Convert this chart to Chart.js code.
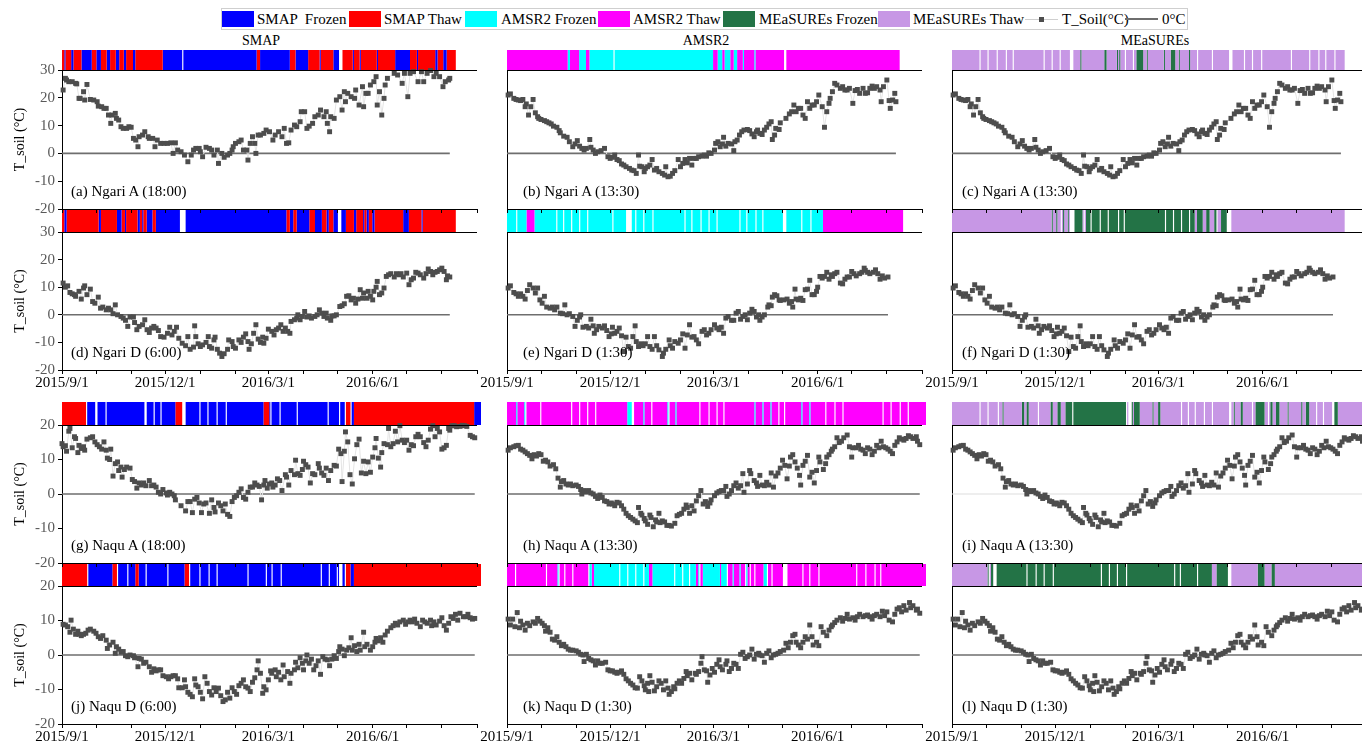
<!DOCTYPE html>
<html>
<head>
<meta charset="utf-8">
<script src="https://cdn.jsdelivr.net/npm/chart.js@4.4.1/dist/chart.umd.min.js"></script>
<style>
  html, body { margin: 0; padding: 0; background: #fff; overflow: hidden; width: 1362px; height: 743px; }
  body { position: relative; font-family: 'Liberation Serif', 'Times New Roman', serif; color: #000; }
  canvas, .abs { position: absolute; }
  .txt { position: absolute; white-space: pre; font-size: 15px; line-height: 18px; }
  .head { position: absolute; font-size: 14px; line-height: 16px; transform: translateX(-50%); white-space: nowrap; }
  #legend { position: absolute; left: 221px; top: 8px; width: 965px; height: 20px; border: 1px solid #cfcfcf; }
  .sw { position: absolute; top: 11px; width: 32px; height: 16px; }
</style>
</head>
<body>
<div id="legend"></div>
<script>
// ---- soil temperature at overpass time, [day since 2015-09-01, degC] ----
const ngariA18 = [[1,22.8],[3,27],[4,26.4],[6,25.8],[9,25.8],[12,25.2],[13,25],[15,19.8],[16,19.8],[19,22.2],[20,19.2],[22,24.8],[25,19.4],[28,19.2],[31,18.6],[32,17],[35,16.8],[37,16.2],[39,16.2],[41,13.8],[43,10.8],[44,13.8],[47,14.4],[48,12.6],[50,12],[52,9.6],[54,9],[57,9],[59,9.6],[61,9.4],[63,5.4],[65,4.8],[67,2.4],[68,6],[71,6.6],[73,7.8],[76,6],[77,5.4],[80,5.4],[82,2.4],[84,4.8],[87,3.6],[90,3.6],[93,3.6],[96,3.8],[98,0],[100,3.8],[102,1.2],[105,0.6],[108,-0.6],[111,-3],[114,-0.6],[116,1.2],[118,1.8],[121,1.8],[122,0.6],[124,-1.2],[127,2.2],[130,1.8],[132,1.2],[134,-0.6],[137,1.2],[138,-3.6],[141,0],[143,-1.4],[146,-0.6],[148,0],[150,1.2],[151,2.4],[153,3.6],[156,4.2],[158,4.8],[160,1.2],[163,1.2],[164,-2.4],[166,3.6],[168,6],[170,3.6],[171,0],[173,6.6],[175,6.6],[178,7.2],[180,8.4],[183,7.8],[186,4.8],[188,6.6],[191,7.8],[194,6],[196,9],[198,3.6],[200,3.8],[202,8.4],[205,10.2],[207,9.6],[210,11.4],[211,15],[214,15],[216,9],[218,9.8],[221,10.8],[223,13.2],[226,13.8],[228,15.6],[231,13.2],[233,15],[234,10.8],[236,7.8],[237,13.2],[240,12.6],[242,19.2],[245,20.4],[247,15.6],[249,22.2],[250,18.6],[252,21.6],[255,20.4],[258,19.8],[259,22.8],[262,17.4],[265,24],[266,16.8],[268,21.6],[270,21.6],[272,24.6],[275,25.8],[277,27.6],[278,17.4],[280,22.2],[282,13.8],[284,19.8],[285,24.6],[287,27],[293,28.8],[296,28.2],[300,25.2],[302,28.8],[305,20.4],[307,28.8],[310,29.4],[314,25.8],[317,29.4],[319,25.8],[322,28.8],[325,29.8],[328,27.6],[330,28.8],[333,27.6],[336,24],[338,25.8],[341,26.4],[342,27]];

const ngariA1330 = [[1,21],[3,21.4],[6,19.8],[8,19.4],[10,19.2],[12,19],[14,19.4],[16,16.8],[17,17.8],[19,13.8],[21,16.8],[23,19.4],[25,14.6],[27,13.2],[28,12.6],[30,12.2],[33,11.8],[35,11.4],[37,11],[39,10.6],[41,9.8],[44,9.4],[46,8.2],[47,7.4],[50,6.2],[53,5.8],[55,4.2],[58,2.4],[60,3.4],[62,4.6],[64,2.6],[66,1.8],[68,1.2],[70,1.8],[73,5],[74,2.2],[76,1.2],[78,0],[80,0.6],[83,1],[86,1.8],[89,-1.2],[91,-1.8],[93,-1.4],[95,-0.6],[97,-2.2],[99,-2.6],[101,-3.8],[103,-4.2],[105,-4.8],[108,-5.4],[110,-6],[112,-6.2],[114,-7.2],[116,-0.6],[117,-4.6],[119,-4.8],[121,-6.6],[122,-5.4],[124,-4.8],[126,-4.2],[128,-2.2],[130,-6],[132,-5.4],[134,-6.6],[137,-7.2],[139,-7.8],[140,-4.8],[142,-8.4],[144,-8.2],[146,-7.2],[148,-6.2],[151,-2.2],[153,-4.8],[155,-3.6],[157,-2.2],[159,-3.4],[161,-1.8],[163,-4.2],[165,-1.8],[167,-1.8],[169,-1.2],[172,-1],[174,-0.6],[176,-1],[178,0.2],[180,0],[183,1.2],[184,3.6],[186,4.2],[188,2.4],[190,3.4],[191,5.8],[193,2.6],[195,3.6],[198,3.4],[200,1],[201,4.2],[203,4.8],[205,6.6],[207,7.8],[209,8.4],[212,8.6],[214,8.2],[216,7],[218,6],[220,7.8],[221,8.4],[223,7.2],[225,6.8],[227,8.4],[229,9.4],[231,10.6],[233,11.4],[234,5],[236,6.6],[237,9],[240,8.6],[241,11],[246,12.6],[249,14.2],[251,15],[253,17.4],[255,15],[257,16.2],[259,16.2],[261,13.8],[263,12.6],[265,18.6],[267,16.2],[269,17.4],[271,17.4],[273,18.6],[275,21],[278,16.8],[280,9.4],[282,15],[284,18],[285,19.8],[287,22.2],[289,25.2],[291,24.6],[294,23.4],[296,24],[298,22.8],[300,22.8],[302,23.4],[305,18],[307,22.6],[309,23],[311,21.6],[314,23.4],[316,21.6],[318,21.8],[320,23.4],[322,24.2],[324,23.4],[326,24],[329,22.8],[330,18.6],[332,24],[335,26.4],[337,19],[338,16.2],[340,19.2],[342,21.6],[343,18.6]];

const ngariD6 = [[1,11.5],[3,10],[5,10.5],[7,8.1],[9,7.6],[11,7.3],[12,6.7],[15,8.5],[17,5.7],[19,9.7],[20,10.5],[22,7.3],[25,9.3],[27,4.8],[29,4.2],[32,6.4],[34,2.4],[36,2.8],[39,1.8],[41,2.4],[43,1.8],[45,0.4],[47,3.6],[49,0],[52,-0.6],[54,-1.2],[56,-2],[58,-4.2],[60,-0.8],[63,-0.8],[64,-2.8],[66,-5.4],[68,-4.2],[71,-3.6],[73,-1.8],[75,-5.4],[77,-6.4],[79,-4.8],[81,-4.2],[83,-4.8],[85,-5.7],[87,-7.9],[90,-8.1],[93,-6.7],[95,-4.5],[97,-7.3],[99,-6],[101,-4.5],[103,-8.5],[106,-10.3],[109,-11.2],[111,-7.9],[113,-12.5],[116,-11.7],[117,-4],[118,-7.9],[120,-10.5],[122,-11.5],[124,-10.9],[127,-10],[129,-7.9],[130,-11.5],[132,-12.1],[134,-9.1],[135,-8.1],[137,-12.5],[139,-13.9],[141,-15.1],[143,-14.1],[146,-12.5],[147,-9.1],[150,-9.7],[151,-11.5],[153,-12.1],[156,-9.1],[158,-10],[160,-8.1],[162,-6.9],[164,-9.7],[165,-12.5],[167,-10.5],[169,-6.7],[171,-3.6],[173,-8.8],[175,-10],[177,-8.1],[178,-10.3],[180,-8.5],[182,-5.2],[185,-6],[187,-7.3],[189,-5.4],[191,-4.8],[193,-3.6],[195,-6],[197,-4.8],[199,-6],[201,-6.7],[202,-2.4],[205,-1.8],[207,-1.2],[208,0],[210,-1.8],[212,-0.6],[214,1.2],[216,-0.8],[218,-0.4],[220,-1.2],[223,-0.6],[225,0],[227,1.8],[229,0.6],[231,-0.6],[233,0.6],[234,-1.2],[237,-2],[238,-0.4],[240,-0.4],[242,0],[245,3],[247,3.3],[249,4],[251,6.7],[253,6.9],[255,5.4],[257,6],[259,4.2],[261,5.7],[263,9.1],[265,6],[266,7.9],[269,6],[270,8.5],[272,6.7],[274,5.4],[275,8.5],[277,10],[278,12.1],[280,7.3],[282,7.9],[284,9.7],[286,13.9],[288,14.5],[290,14.9],[293,13.7],[295,14.9],[297,14.5],[299,14.9],[301,13.7],[304,15.1],[306,10.9],[308,12.7],[310,13.3],[312,15.4],[314,15.1],[316,14.5],[319,13.3],[321,14.9],[323,16.6],[325,15.7],[327,14.5],[329,15.4],[331,15.7],[333,16.3],[335,16.9],[337,15.7],[339,12.7],[340,14.1],[342,13.7]];

const ngariD130 = [[1,9.7],[3,10.5],[6,8.1],[8,7.6],[10,6.7],[12,7.6],[14,6.7],[16,5.7],[18,8.8],[20,10.9],[23,9.7],[25,7.9],[27,9.7],[29,5.4],[31,4.2],[33,6.7],[35,2.8],[38,2.4],[40,2.8],[42,1.8],[44,2.8],[47,0.6],[49,0.4],[51,3.6],[53,0],[55,0.4],[58,-0.6],[60,-4.2],[62,-2],[64,-0.8],[65,0],[67,-4.5],[70,-4.2],[72,-4.8],[74,-1.6],[76,-4],[77,-6.7],[79,-5.4],[81,-4.2],[84,-4.8],[86,-4],[88,-5.7],[90,-7.9],[92,-6.9],[93,-4.5],[95,-6.7],[97,-6],[99,-4.8],[101,-7.6],[103,-13.3],[105,-8.1],[107,-11.5],[109,-12.1],[111,-7.9],[113,-4],[114,-9.7],[116,-11.5],[118,-10.5],[120,-11.2],[122,-10.5],[124,-7.9],[126,-11.5],[128,-12.5],[130,-7.9],[132,-11.2],[134,-12.7],[137,-15.1],[138,-13.9],[140,-12.5],[143,-9.1],[144,-11.2],[146,-12.1],[148,-9.7],[151,-10.3],[153,-9.1],[155,-6.9],[157,-12.1],[159,-7.3],[161,-3.6],[163,-8.1],[165,-7.9],[167,-9.1],[169,-10.5],[172,-6],[174,-5.4],[176,-7.3],[178,-6.7],[180,-5.4],[183,-3.6],[185,-4.8],[187,-5.4],[189,-4.5],[191,-6.7],[193,-1.2],[195,-0.6],[198,-2],[200,-2],[202,0.6],[204,1.2],[206,-1.6],[208,-0.6],[210,0],[212,-1.8],[214,0.6],[216,2],[218,1.2],[220,-0.8],[222,0],[223,-2],[225,-0.8],[227,0],[230,2.8],[231,3.6],[233,3.3],[234,6.4],[236,7.3],[238,6.9],[240,5.4],[241,5.2],[244,5.4],[247,5.7],[249,4.2],[251,4.8],[252,2.8],[254,9.3],[255,5.7],[257,5.4],[259,6],[261,5.2],[263,9.1],[265,9.3],[267,12.5],[269,7.3],[271,7.3],[273,8.5],[274,10],[276,13.9],[278,13.3],[280,13.9],[282,15.4],[284,12.9],[286,14.5],[287,13.9],[289,14.9],[291,15.4],[294,11.5],[296,11.2],[298,12.9],[300,13.7],[302,13.7],[304,15.7],[306,14.9],[308,14.1],[311,14.9],[313,15.4],[315,16.9],[316,16.1],[318,15.4],[320,14.9],[323,15.4],[325,16.3],[327,14.9],[329,12.9],[331,14.1],[333,13.3],[336,13.7]];

const naquA18 = [[0,14.6],[1,13.7],[3,14],[4,12.4],[6,18.2],[7,19],[9,13.4],[11,16.6],[12,16.1],[14,12],[15,14.1],[17,13.2],[19,13.7],[20,12.7],[22,15.9],[25,16.3],[27,16.6],[29,15.1],[31,14.3],[33,13.7],[35,13],[37,15.1],[39,12.7],[40,10.4],[42,10],[43,13],[45,5.2],[47,8.8],[49,9.3],[50,6.8],[52,7.8],[53,4.9],[55,7.1],[57,7.8],[60,7.5],[62,4.2],[64,3.6],[66,1.7],[68,3.2],[70,2.6],[72,3.2],[74,2.4],[77,3.9],[79,2.4],[81,2.6],[83,2],[85,0.5],[87,0],[89,1.3],[92,0.3],[93,-0.3],[95,0.5],[97,0],[99,-0.5],[100,-1.7],[105,-3.4],[109,-4.9],[111,-2.2],[113,-2.2],[115,-5.4],[117,-1.5],[119,-1],[121,-2.6],[123,-5.4],[125,-2.9],[127,-2.6],[130,-5.6],[132,-1.7],[134,-3.9],[135,-5.2],[138,-2.6],[140,-3.4],[142,-4.9],[144,-2.9],[146,-5.9],[148,-6.5],[150,-2.2],[152,-1],[154,-0.5],[156,0.5],[158,1.5],[160,-1],[162,-1.5],[164,0.5],[166,2],[168,2],[170,3.2],[172,2.6],[174,2.2],[176,-1.7],[178,2.6],[179,3.9],[181,1.7],[183,2.9],[185,3.2],[186,2],[188,2.6],[190,4.4],[192,3.9],[194,1],[197,5.6],[198,4.9],[200,2.6],[202,6.8],[205,5.6],[206,9.8],[208,5.9],[210,5.4],[212,7.1],[213,9.5],[215,8.5],[217,7.8],[219,3.2],[221,5.9],[223,5.6],[226,8.8],[227,7.5],[229,6.1],[231,5.4],[233,7.5],[235,3.9],[237,6.8],[240,8.3],[242,8.1],[244,13],[246,11.7],[247,3.6],[249,12.4],[250,18],[252,15.1],[254,5.6],[256,2.9],[258,10.2],[260,14.3],[262,15.9],[264,6.1],[266,9.5],[268,5.9],[270,9.3],[272,6.3],[274,10.7],[276,13.4],[277,16.1],[279,10.4],[281,7.8],[282,12],[284,14.6],[287,14.3],[288,19],[290,13.7],[292,14.6],[294,18.2],[296,15.1],[298,19.8],[300,15.6],[302,14.9],[304,15.6],[306,12.7],[308,14.3],[310,14],[312,16.6],[314,17.3],[316,16.6],[319,14.9],[321,13.7],[323,15.6],[325,18.8],[327,19.8],[329,16.6],[331,19],[333,18],[335,13],[337,13.4],[339,14.1],[341,19],[342,18.5],[344,19.8],[346,19.8],[348,19.5],[351,19.6],[353,19.9],[355,19.8],[357,19.6],[360,17],[362,16.6],[364,16.3]];

const naquA1330 = [[1,12.7],[3,13.4],[6,13.7],[8,14],[10,14.1],[12,13],[14,12.7],[16,12.2],[18,11.7],[20,11.2],[22,10.2],[24,11.4],[26,11],[28,11.7],[30,11.4],[32,9.5],[34,9.8],[36,9.3],[38,8.1],[41,8.5],[43,7.3],[45,4.6],[47,2],[48,3.6],[50,3.9],[52,2.9],[54,2.6],[56,2.9],[58,2.4],[61,2.6],[63,2.2],[65,1.3],[66,0],[68,1],[70,0.7],[72,1],[74,0.3],[76,0],[78,-0.7],[80,-1.3],[82,-0.3],[84,-1],[86,-2],[88,-2.2],[90,-2.9],[92,-2.6],[93,-2.9],[95,-3.4],[97,-2.4],[99,-2.6],[101,-3.4],[103,-4.4],[105,-5.6],[107,-6.3],[109,-6.8],[111,-7.3],[113,-7.8],[115,-8.3],[116,-3.9],[118,-5.6],[119,-6.1],[121,-7.1],[122,-7.8],[124,-8.8],[126,-6.1],[127,-6.8],[129,-9.5],[131,-7.5],[132,-8.1],[134,-5.6],[135,-8.3],[137,-7.8],[139,-8.1],[141,-9.1],[143,-9.1],[145,-9.3],[148,-8.5],[150,-6.3],[152,-5.9],[154,-5.6],[156,-4.4],[158,-3.2],[159,-3.9],[161,-5.6],[163,-3.4],[165,-4.9],[167,-2],[169,-0.5],[171,1],[173,-2.9],[175,-2.2],[177,-3.6],[179,-2.6],[180,-1.7],[183,-0.5],[185,0.3],[187,0.7],[189,1],[191,1],[193,2.2],[194,-0.7],[196,0],[198,1],[200,2.4],[202,3.2],[204,1.7],[206,2.4],[208,5.9],[209,0.5],[212,2.9],[214,6.8],[215,5.9],[218,3.9],[220,3.2],[221,2.2],[223,5.4],[225,2.6],[227,2.4],[229,3.4],[231,2.6],[233,6.1],[235,2],[237,5.2],[239,6.1],[241,7.5],[243,9.8],[245,8.3],[247,4.4],[249,8.1],[250,10.7],[252,11.4],[254,9.3],[256,7.5],[258,5.4],[259,2.6],[261,8.3],[263,9.5],[265,11.2],[267,4.9],[269,6.3],[271,3.2],[273,6.8],[275,10.7],[276,9.3],[279,7.1],[281,8.8],[282,10.7],[284,11.4],[286,12.4],[287,13],[289,13.7],[291,16.3],[293,14.9],[295,15.3],[297,16.3],[300,17.1],[302,13.7],[304,10.7],[305,13.4],[308,13.4],[310,14.1],[312,13],[314,12.7],[316,11.7],[318,13.4],[320,13],[322,11.4],[324,12.4],[326,14.1],[328,13.4],[330,15.3],[332,13.7],[334,13.4],[336,13],[338,12.4],[340,11.7],[342,14.1],[344,15.1],[346,16.3],[348,15.9],[350,15.6],[352,16.1],[354,16.9],[356,16.6],[358,16.1],[361,16.6],[362,15.3],[364,14.3]];

const naquD6 = [[1,8.9],[3,8.7],[5,8.2],[7,6.6],[8,10.1],[10,7.5],[12,6],[14,6.9],[15,6],[17,5.6],[19,6],[21,6.3],[23,7.2],[25,7.5],[28,6.9],[30,6.3],[32,5.3],[34,4.8],[36,5.6],[39,4.3],[40,1.9],[42,2.9],[45,3.7],[47,0.5],[48,2.4],[50,1.7],[52,0.8],[54,1],[56,-0.2],[58,-0.5],[60,0],[63,-0.2],[64,-0.8],[67,-3.4],[68,-1],[70,-1.2],[72,-2.4],[74,-2.1],[77,-3.4],[79,-5],[81,-4],[83,-4.6],[85,-4.3],[87,-4.3],[89,-6],[92,-6.3],[94,-6.9],[96,-6.3],[98,-6],[100,-6],[102,-6.9],[103,-9.5],[106,-9.5],[108,-7.2],[109,-9.2],[111,-10.8],[113,-11.4],[115,-12.1],[117,-6.9],[118,-8.7],[120,-9.2],[122,-10.8],[124,-12.7],[126,-6.3],[128,-8.2],[130,-10.6],[132,-11.6],[134,-9.5],[136,-10.6],[138,-9.6],[140,-11.8],[142,-13.5],[144,-13],[146,-10.8],[148,-12.5],[150,-9.5],[152,-10.6],[154,-11.4],[156,-8.9],[158,-8.2],[160,-7.2],[162,-9.2],[164,-9.6],[166,-10.6],[168,-7.9],[170,-6.6],[172,-4.3],[173,-1.7],[175,-5.3],[177,-11.1],[178,-9.2],[180,-10.1],[182,-7.2],[184,-4.6],[185,-5.3],[188,-4.3],[189,-6.3],[191,-5],[193,-7.2],[195,-2.9],[196,-6.3],[199,-4.8],[201,-8.2],[202,-5.3],[205,-4.3],[206,-2.1],[208,-3.7],[210,-0.8],[212,-2.4],[213,-4.3],[215,-1.7],[216,0],[218,-2.4],[220,-1.2],[222,-4.3],[224,-3.1],[226,-1.7],[228,-5.6],[230,-0.5],[232,-1.2],[234,-1.4],[236,-3.1],[238,-1.2],[240,-0.2],[242,-1],[244,1],[245,2.4],[247,1.7],[249,-0.2],[251,1.4],[253,2.1],[255,5],[256,1.4],[258,2.7],[260,1],[262,3.1],[263,1.4],[266,6.6],[267,2.4],[269,3.1],[272,1.4],[274,2.4],[276,3.7],[277,4.8],[279,4.1],[281,5],[283,3.7],[285,5.8],[287,6.9],[290,7.9],[292,8.5],[294,9.2],[296,8.7],[298,9.6],[301,10.1],[303,8.9],[305,9.6],[307,10.1],[309,9.6],[311,10.4],[313,9.2],[316,8.2],[318,10.1],[320,9.6],[322,9.2],[325,10.1],[326,8.5],[328,9.6],[330,8.7],[333,9.8],[335,10.8],[337,8.5],[339,7.2],[341,9.2],[343,11.1],[345,10.6],[347,11.8],[349,10.1],[351,12.1],[354,11.1],[356,11.1],[358,11.8],[360,10.8],[362,10.4],[364,10.6]];

const naquD130 = [[1,10.4],[3,8.7],[5,10.4],[7,8.2],[9,12.3],[11,7.9],[12,9.8],[14,8.7],[16,7.2],[18,9.2],[20,8.5],[23,9.6],[25,9.2],[27,10.6],[29,9.8],[31,9.2],[33,8.5],[34,6.9],[36,7.9],[38,6.6],[40,4.6],[42,4.3],[44,5.3],[46,3.7],[48,2.7],[50,3.1],[52,2.4],[54,1.7],[56,1.4],[58,1.4],[61,1.2],[63,0.8],[65,0.2],[67,0],[68,-1.9],[70,0.2],[72,-1],[74,-1.4],[76,-1.7],[78,-2.9],[80,-1.7],[82,-2.4],[84,-2.4],[87,-2.1],[89,-4.3],[91,-4.6],[93,-4.6],[95,-5],[97,-5.3],[99,-5],[101,-4.6],[103,-5.6],[105,-6.9],[107,-7.5],[109,-8.2],[111,-8.7],[113,-9.5],[115,-9.6],[117,-6.3],[119,-7.5],[121,-8.9],[122,-10.1],[124,-8.2],[125,-10.6],[126,-6],[128,-7.9],[130,-10.4],[132,-9.2],[134,-7.5],[136,-8.2],[138,-10.1],[140,-7.5],[142,-9.6],[143,-11.4],[145,-10.6],[147,-9.2],[148,-9.8],[150,-8.2],[152,-7.5],[154,-8.2],[156,-6.8],[158,-4.8],[159,-6],[161,-5.3],[163,-7.2],[166,-5.3],[167,-5.6],[169,-4.8],[171,-2.4],[172,-0.5],[174,-4.3],[176,-4.6],[177,-7.9],[179,-5.8],[181,-3.9],[183,-5],[185,-2.7],[187,-1.4],[188,-3.4],[190,-4.3],[193,-2.7],[194,-1.7],[196,-4.8],[198,-3.9],[200,-2.4],[202,-2.7],[204,-3.9],[206,0.2],[208,0.8],[210,-1],[212,-0.5],[214,0],[216,1.7],[218,-1.2],[220,0.2],[222,0.5],[223,0],[225,-0.2],[227,-2.1],[229,0.5],[231,1.2],[233,-0.8],[235,0],[237,0.2],[239,0.5],[241,1],[244,1.4],[246,3.4],[248,2.1],[250,3.7],[252,5.6],[254,6],[255,3.7],[257,2.9],[259,2.1],[261,3.7],[263,5.3],[265,4.6],[267,8.7],[269,5.3],[270,2.9],[273,3.7],[275,2.7],[277,8.2],[279,6.6],[282,5.6],[284,7.2],[286,8.2],[287,8.7],[289,9.4],[291,10.1],[294,10.8],[296,9.8],[298,10.6],[300,11.8],[302,10.4],[305,10.8],[307,10.1],[309,11.1],[311,11.8],[314,11.1],[316,11.4],[318,11.6],[320,11.1],[322,10.4],[324,11.4],[326,11.8],[329,11.1],[331,12.7],[333,11.4],[335,12.5],[337,10.1],[340,9.6],[342,11.8],[344,13.3],[346,13.7],[348,12.5],[350,14.3],[352,13],[355,15.2],[356,13.7],[358,14.3],[361,13],[362,13.3],[364,12.1]];

// ---- freeze/thaw retrievals: [first day, state] runs ('F' frozen, 'T' thaw, null = end) and days without retrieval ----
const smapNgariA = [[0,'T'],[2,'F'],[3,'T'],[8,'F'],[10,'T'],[17,'F'],[26,'T'],[30,'F'],[34,'T'],[39,'F'],[42,'T'],[47,'F'],[50,'T'],[54,'F'],[56,'T'],[62,'F'],[64,'T'],[88,'F'],[170,'T'],[173,'F'],[199,'T'],[204,'F'],[215,'T'],[225,'F'],[226,'T'],[237,'F'],[245,'T'],[254,'F'],[255,'T'],[260,'F'],[261,'T'],[275,'F'],[276,'T'],[291,'F'],[304,'T'],[310,'F'],[311,'T'],[326,'F'],[328,'T'],[333,'F'],[336,'T'],[344,null]];
const smapNgariAGaps = [105,242,243,244];
const amsrNgariA = [[0,'T'],[53,'F'],[55,'T'],[63,'F'],[69,'T'],[72,'F'],[180,'T'],[184,'F'],[188,'T'],[190,'F'],[195,'T'],[198,'F'],[201,'T'],[206,'F'],[207,'T'],[216,'F'],[217,'T'],[343,null]];
const amsrNgariAGaps = [93,242,243];
const measNgariA = [[0,'T'],[112,'F'],[113,'T'],[133,'F'],[135,'T'],[144,'F'],[145,'T'],[146,'F'],[147,'T'],[161,'F'],[167,'T'],[170,'F'],[171,'T'],[185,'F'],[186,'T'],[191,'F'],[195,'T'],[198,'F'],[199,'T'],[207,'F'],[208,'T'],[343,null]];
const measNgariAGaps = [24,31,39,47,53,80,87,94,103,104,105,151,158,214,227,242,243,244,255,262,270,296,312,320,326,334];

const smapNgariD = [[0,'T'],[2,'F'],[4,'T'],[32,'F'],[34,'T'],[48,'F'],[52,'T'],[55,'F'],[56,'T'],[66,'F'],[68,'T'],[70,'F'],[71,'T'],[74,'F'],[79,'T'],[82,'F'],[196,'T'],[199,'F'],[202,'T'],[205,'F'],[216,'T'],[221,'F'],[227,'T'],[231,'F'],[233,'T'],[237,'F'],[248,'T'],[255,'F'],[257,'T'],[263,'F'],[264,'T'],[266,'F'],[268,'T'],[271,'F'],[273,'T'],[298,'F'],[303,'T'],[314,'F'],[315,'T'],[344,null]];
const smapNgariDGaps = [103,104,105,106,107,241,242,243];
const amsrNgariD = [[0,'F'],[17,'T'],[24,'F'],[276,'T'],[346,null]];
const amsrNgariDGaps = [8,43,49,56,63,70,92,104,105,106,107,108,112,119,127,155,161,169,176,183,203,209,217,223,241,242,243,257,265];
const measNgariD = [[0,'T'],[87,'F'],[88,'T'],[91,'F'],[92,'T'],[97,'F'],[98,'T'],[101,'F'],[102,'T'],[107,'F'],[114,'T'],[117,'F'],[212,'T'],[214,'F'],[219,'T'],[222,'F'],[225,'T'],[229,'F'],[232,'T'],[235,'F'],[240,'T'],[343,null]];
const measNgariDGaps = [95,103,104,105,106,115,121,129,136,145,150,186,193,200,207,231,240,241,242,243];

const smapNaquA = [[0,'T'],[22,'F'],[99,'T'],[108,'F'],[176,'T'],[181,'F'],[248,'T'],[253,'F'],[255,'T'],[360,'F'],[366,null]];
const smapNaquAGaps = [21,29,30,38,72,73,80,86,105,106,107,120,127,135,143,182,190,205,232,242,247,252];
const amsrNaquA = [[0,'T'],[8,'F'],[9,'T'],[15,'F'],[16,'T'],[105,'F'],[109,'T'],[119,'F'],[120,'T'],[140,'F'],[142,'T'],[147,'F'],[148,'T'],[216,'F'],[217,'T'],[223,'F'],[224,'T'],[230,'F'],[231,'T'],[257,'F'],[258,'T'],[264,'F'],[265,'T'],[366,null]];
const amsrNaquAGaps = [16,29,56,63,70,77,109,110,126,141,168,176,183,189,237,242,278,286,293,328,335,343,350];
const measNaquA = [[0,'T'],[44,'F'],[45,'T'],[61,'F'],[63,'T'],[65,'F'],[67,'T'],[86,'F'],[88,'T'],[92,'F'],[95,'T'],[99,'F'],[153,'T'],[157,'F'],[158,'T'],[159,'F'],[164,'T'],[175,'F'],[176,'T'],[180,'F'],[182,'T'],[246,'F'],[247,'T'],[252,'F'],[254,'T'],[265,'F'],[273,'T'],[278,'F'],[280,'T'],[283,'F'],[286,'T'],[293,'F'],[294,'T'],[305,'F'],[306,'T'],[309,'F'],[312,'T'],[334,'F'],[337,'T'],[366,null]];
const measNaquAGaps = [24,31,40,75,105,152,154,155,156,200,206,212,220,227,242,243,262,276,318,324,332,333];

const smapNaquD = [[0,'T'],[23,'F'],[44,'T'],[49,'F'],[64,'T'],[67,'F'],[107,'T'],[111,'F'],[248,'T'],[252,'F'],[255,'T'],[366,null]];
const smapNaquDGaps = [22,48,57,73,92,111,120,128,135,162,178,183,191,226,233,240,242,243,244,247];
const amsrNaquD = [[0,'T'],[44,'F'],[45,'T'],[72,'F'],[74,'T'],[76,'F'],[124,'T'],[127,'F'],[165,'T'],[167,'F'],[169,'T'],[171,'F'],[186,'T'],[187,'F'],[193,'T'],[197,'F'],[198,'T'],[203,'F'],[204,'T'],[208,'F'],[210,'T'],[224,'F'],[227,'T'],[366,null]];
const amsrNaquDGaps = [7,34,45,50,57,71,98,105,112,119,146,153,159,168,192,208,212,216,227,231,241,242,243,244,258,264,272,305,313,321,326];
const measNaquD = [[0,'T'],[31,'F'],[33,'T'],[34,'F'],[227,'T'],[231,'F'],[244,'T'],[267,'F'],[273,'T'],[279,'F'],[282,'T'],[366,null]];
const measNaquDGaps = [32,36,37,38,65,73,80,88,130,137,144,152,194,199,214,241,242,243];

// ---- axis labels ----
const monthStartDays = [0,30,61,91,122,153,182,213,243,274,304,335,366];
const dateLabelDays = [0,91,182,274];
const dateLabels = ['2015/9/1','2015/12/1','2016/3/1','2016/6/1'];
const sensorNames = ['SMAP','AMSR2','MEaSUREs'];
const panelLabels = ['(a) Ngari A (18:00)','(b) Ngari A (13:30)','(c) Ngari A (13:30)',
  '(d) Ngari D (6:00)','(e) Ngari D (1:30)','(f) Ngari D (1:30)',
  '(g) Naqu A (18:00)','(h) Naqu A (13:30)','(i) Naqu A (13:30)',
  '(j) Naqu D (6:00)','(k) Naqu D (1:30)','(l) Naqu D (1:30)'];

// ---- figure layout ----
const FONT = "'Liberation Serif', 'Times New Roman', serif";
Chart.defaults.font.family = FONT;
const COL_LEFT = [62, 507, 952];
const PLOT_W = 419;
const ROWS = [
  {top: 70,  h: 139, stripTop: 50,  stripH: 20, yMax: 30, dates: false},
  {top: 232, h: 138, stripTop: 210, stripH: 22, yMax: 30, dates: true},
  {top: 425, h: 138, stripTop: 402, stripH: 23, yMax: 20, dates: false},
  {top: 586, h: 138, stripTop: 564, stripH: 22, yMax: 20, dates: true}
];
const LABEL_DX = [9, 16, 10];
const COLORS = {
  SMAP:     {F: '#0000ff', T: '#ff0000'},
  AMSR2:    {F: '#00ffff', T: '#ff00ff'},
  MEaSUREs: {F: '#237346', T: '#c797e5'}
};

const panels = [
  {series: ngariA18,   runs: smapNgariA, gaps: smapNgariAGaps},
  {series: ngariA1330, runs: amsrNgariA, gaps: amsrNgariAGaps},
  {series: ngariA1330, runs: measNgariA, gaps: measNgariAGaps},
  {series: ngariD6,    runs: smapNgariD, gaps: smapNgariDGaps},
  {series: ngariD130,  runs: amsrNgariD, gaps: amsrNgariDGaps},
  {series: ngariD130,  runs: measNgariD, gaps: measNgariDGaps},
  {series: naquA18,    runs: smapNaquA,  gaps: smapNaquAGaps},
  {series: naquA1330,  runs: amsrNaquA,  gaps: amsrNaquAGaps},
  {series: naquA1330,  runs: measNaquA,  gaps: measNaquAGaps, faintZero: true},
  {series: naquD6,     runs: smapNaquD,  gaps: smapNaquDGaps},
  {series: naquD130,   runs: amsrNaquD,  gaps: amsrNaquDGaps},
  {series: naquD130,   runs: measNaquD,  gaps: measNaquDGaps}
];

function addCanvas(left, top, w, h) {
  const c = document.createElement('canvas');
  c.width = w; c.height = h;
  c.style.left = left + 'px'; c.style.top = top + 'px';
  c.style.width = w + 'px'; c.style.height = h + 'px';
  document.body.appendChild(c);
  return c;
}
function addText(cls, text, left, top) {
  const d = document.createElement('div');
  d.className = cls; d.textContent = text;
  d.style.left = left + 'px'; d.style.top = top + 'px';
  document.body.appendChild(d);
  return d;
}

// merge daily states into contiguous coloured segments
function stripSegments(runs, gaps) {
  const end = runs[runs.length - 1][0];
  const segs = [];
  let r = 0;
  for (let d = 0; d < end; d++) {
    while (r + 1 < runs.length && runs[r + 1][0] <= d) r++;
    const s = runs[r][1];
    if (s === null || gaps.includes(d)) continue;
    const last = segs[segs.length - 1];
    if (last && last.state === s && last.to === d) last.to = d + 1;
    else segs.push({from: d, to: d + 1, state: s});
  }
  return segs;
}

const topFrame = {
  id: 'topFrame',
  afterDraw(chart) {
    const {ctx, chartArea: a} = chart;
    ctx.save();
    ctx.strokeStyle = '#000'; ctx.lineWidth = 1;
    ctx.beginPath();
    ctx.moveTo(a.left, a.top + 0.5); ctx.lineTo(a.right, a.top + 0.5);
    ctx.stroke();
    ctx.restore();
  }
};

const staticOpts = {responsive: false, animation: false, events: []};

// ---- status strips ----
panels.forEach((p, i) => {
  const row = ROWS[Math.floor(i / 3)], col = i % 3;
  const colors = COLORS[sensorNames[col]];
  const cv = addCanvas(COL_LEFT[col], row.stripTop, PLOT_W, row.stripH);
  const segs = stripSegments(p.runs, p.gaps);
  new Chart(cv, {
    type: 'bar',
    data: {
      labels: [''],
      datasets: segs.map(s => ({
        data: [[s.from, s.to]],
        backgroundColor: colors[s.state],
        borderWidth: 0, barPercentage: 1, categoryPercentage: 1,
        grouped: false, inflateAmount: 0
      }))
    },
    options: {
      ...staticOpts,
      indexAxis: 'y',
      layout: {padding: 0},
      plugins: {legend: {display: false}, tooltip: {enabled: false}},
      scales: {
        x: {type: 'linear', display: false, min: 0, max: 366},
        y: {display: false}
      }
    }
  });
});

// ---- temperature panels ----
panels.forEach((p, i) => {
  const r = Math.floor(i / 3), col = i % 3, row = ROWS[r];
  const yW = col === 0 ? 62 : 30;
  const padTop = 10;
  const xH = row.dates ? 28 : 6;
  const cv = addCanvas(COL_LEFT[col] - yW, row.top - padTop, yW + PLOT_W, padTop + row.h + xH);
  const pts = p.series.map(([d, t]) => ({x: d, y: t}));
  const lastDay = p.series[p.series.length - 1][0];
  new Chart(cv, {
    type: 'scatter',
    data: {
      datasets: [
        {
          data: pts, showLine: true, borderColor: '#e4e4e4', borderWidth: 1,
          pointStyle: 'rect', pointRadius: 3.5, pointBackgroundColor: '#4d4d4d',
          pointBorderWidth: 0, clip: 5
        },
        {
          data: [{x: 0, y: 0}, {x: lastDay, y: 0}], showLine: true,
          borderColor: p.faintZero ? '#dddddd' : '#6e6e6e', borderWidth: p.faintZero ? 1 : 1.6,
          pointRadius: 0
        }
      ]
    },
    options: {
      ...staticOpts,
      layout: {padding: {top: padTop, left: 0, right: 0, bottom: 0}},
      plugins: {legend: {display: false}, tooltip: {enabled: false}},
      scales: {
        x: {
          type: 'linear', min: 0, max: 366,
          afterBuildTicks: s => { s.ticks = monthStartDays.map(v => ({value: v})); },
          afterFit: s => { s.height = xH; s.paddingLeft = 0; s.paddingRight = 0; },
          border: {display: true, color: '#000', width: 1},
          grid: {drawOnChartArea: false, drawTicks: true, tickLength: 4, color: '#000'},
          ticks: {
            display: row.dates, autoSkip: false, maxRotation: 0, minRotation: 0, padding: 0,
            color: '#000', font: {size: 15, family: FONT},
            callback: v => { const k = dateLabelDays.indexOf(v); return k < 0 ? '' : dateLabels[k]; }
          }
        },
        y: {
          min: -20, max: row.yMax,
          afterFit: s => { s.width = yW; s.paddingTop = 0; s.paddingBottom = 0; },
          border: {display: true, color: '#000', width: 1},
          grid: {drawOnChartArea: false, drawTicks: col === 0, tickLength: 4, color: '#000'},
          ticks: {
            display: col === 0, stepSize: 5, padding: 3, color: '#595959',
            font: {size: 15, family: FONT},
            callback: v => (v % 10 === 0 ? String(v) : '')
          },
          title: {
            display: col === 0, text: 'T_soil (°C)', color: '#000',
            font: {size: 14, family: FONT}, padding: {top: 12, bottom: 0}
          }
        }
      }
    },
    plugins: [topFrame]
  });
  addText('txt', panelLabels[i], COL_LEFT[col] + LABEL_DX[col], row.top + row.h - 27);
});

// ---- column headings ----
[261, 706, 1155].forEach((x, k) => addText('head', sensorNames[k], x, 33));

// ---- legend ----
const legendItems = [
  {type: 'box', color: COLORS.SMAP.F, x: 222, text: 'SMAP  Frozen', tx: 257},
  {type: 'box', color: COLORS.SMAP.T, x: 349, text: 'SMAP Thaw', tx: 384},
  {type: 'box', color: COLORS.AMSR2.F, x: 465, text: 'AMSR2 Frozen', tx: 501},
  {type: 'box', color: COLORS.AMSR2.T, x: 598, text: 'AMSR2 Thaw', tx: 633},
  {type: 'box', color: COLORS.MEaSUREs.F, x: 723, text: 'MEaSUREs Frozen', tx: 759},
  {type: 'box', color: COLORS.MEaSUREs.T, x: 878, text: 'MEaSUREs Thaw', tx: 913},
  {type: 'marker', x: 1025, w: 33, text: 'T_Soil(°C)', tx: 1062},
  {type: 'line', x: 1125, w: 33, text: '0°C', tx: 1162}
];
legendItems.forEach(it => {
  if (it.type === 'box') {
    const s = document.createElement('div');
    s.className = 'sw'; s.style.left = it.x + 'px'; s.style.background = it.color;
    document.body.appendChild(s);
  } else {
    const l = document.createElement('div');
    l.className = 'abs';
    l.style.left = it.x + 'px'; l.style.width = it.w + 'px';
    l.style.top = it.type === 'line' ? '18px' : '19px';
    l.style.height = it.type === 'line' ? '2px' : '1px';
    l.style.background = it.type === 'line' ? '#6e6e6e' : '#cfcfcf';
    document.body.appendChild(l);
    if (it.type === 'marker') {
      const m = document.createElement('div');
      m.className = 'abs';
      m.style.left = (it.x + 14) + 'px'; m.style.top = '17px';
      m.style.width = '5px'; m.style.height = '5px'; m.style.background = '#4d4d4d';
      document.body.appendChild(m);
    }
  }
  addText('txt', it.text, it.tx, 10);
});
</script>
</body>
</html>
